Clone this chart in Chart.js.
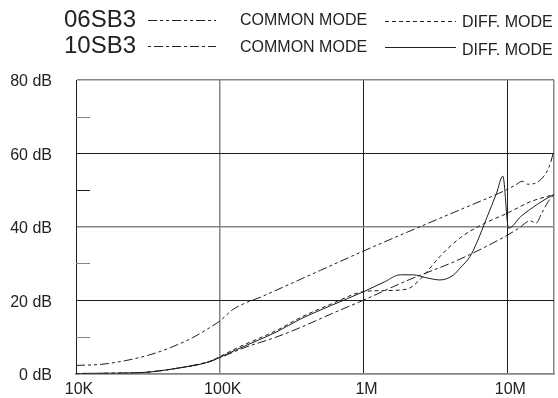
<!DOCTYPE html>
<html>
<head>
<meta charset="utf-8">
<script src="https://cdn.jsdelivr.net/npm/chart.js@4.4.1/dist/chart.umd.min.js"></script>
<style>
  html, body { margin: 0; padding: 0; background: #fff; }
  #wrap { position: relative; width: 558px; height: 398px; font-family: "Liberation Sans", Arial, sans-serif; color: #222; }
  #chart { position: absolute; left: 0; top: 0; }
  .lbl { position: absolute; line-height: 1; white-space: nowrap; }
  svg.key { position: absolute; left: 0; top: 0; }
</style>
</head>
<body>
<div id="wrap">
  <canvas id="chart" width="558" height="398"></canvas>
  <svg class="key" width="558" height="60">
    <g stroke="#222" stroke-width="1" fill="none">
      <line x1="148" y1="20.5" x2="216" y2="20.5" stroke-dasharray="9 3 3 3 3 3"></line>
      <line x1="148" y1="46.5" x2="216" y2="46.5" stroke-dasharray="3 3 9 3"></line>
      <line x1="385" y1="21.5" x2="456" y2="21.5" stroke-dasharray="4 3"></line>
      <line x1="385" y1="47.5" x2="456" y2="47.5"></line>
    </g>
  </svg>
  <div class="lbl" style="left:64px;top:7px;font-size:24px">06SB3</div>
  <div class="lbl" style="left:64px;top:33px;font-size:24px">10SB3</div>
  <div class="lbl" style="left:240px;top:12px;font-size:16px">COMMON MODE</div>
  <div class="lbl" style="left:240px;top:39px;font-size:16px">COMMON MODE</div>
  <div class="lbl" style="left:462px;top:14px;font-size:16px">DIFF. MODE</div>
  <div class="lbl" style="left:462px;top:42px;font-size:16px">DIFF. MODE</div>
</div>
<script>
// frequency axis (Hz)
const xTicks = [1e4, 1e5, 1e6, 1e7, 2.11e7];
const xTickLabels = ['10K', '100K', '1M', '10M', ''];
const yTicks = [0, 10, 20, 30, 40, 50, 60, 70, 80];
const minorDb = [10, 30, 50, 70];

// 06SB3 common mode
const freqCm06 = [1e4, 1.5e4, 2.2e4, 3.2e4, 4.5e4, 6.5e4, 8.5e4, 1e5, 1.24e5, 2e5, 5e5, 1e6, 2.5e6, 5e6, 1e7, 1.15e7, 1.27e7, 1.38e7, 1.55e7, 1.72e7, 1.88e7, 2e7, 2.11e7];
const cm06 = [2.2, 2.5, 3.5, 5.0, 7.0, 9.8, 12.5, 14.3, 17.5, 21.1, 28.1, 33.4, 40.1, 45.1, 50.2, 51.5, 52.4, 51.6, 51.8, 53.0, 55.0, 57.5, 61.0];

// 06SB3 differential mode
const freqDm06 = [1e4, 2e4, 3e4, 5e4, 8.5e4, 1e5, 1.31e5, 2.5e5, 3.62e5, 6e5, 1e6, 1.4e6, 2e6, 2.45e6, 3.4e6, 4.7e6, 7e6, 1e7, 1.44e7, 2.11e7];
const dm06 = [0, 0.1, 0.3, 1.4, 3.3, 4.6, 6.9, 11.8, 15.2, 19.0, 22.3, 22.6, 23.0, 25.5, 31.9, 37.0, 41.0, 43.7, 46.8, 48.8];

// 10SB3 common mode
const freqCm10 = [1e4, 2e4, 3e4, 5e4, 8.5e4, 1e5, 1.45e5, 2.5e5, 3.62e5, 6e5, 1e6, 2e6, 4.7e6, 1e7, 1.2e7, 1.44e7, 1.58e7, 1.75e7, 1.92e7, 2.11e7];
const cm10 = [0, 0.1, 0.3, 1.4, 3.3, 4.3, 6.9, 10.0, 12.5, 16.3, 20.0, 25.3, 31.2, 37.7, 39.6, 41.6, 41.0, 44.0, 46.8, 48.8];

// 10SB3 differential mode
const freqDm10 = [1e4, 2e4, 3e4, 5e4, 8.5e4, 1e5, 1.38e5, 2.5e5, 3.62e5, 6e5, 1e6, 1.4e6, 1.8e6, 2.2e6, 2.8e6, 3.4e6, 4.2e6, 4.7e6, 5.5e6, 6.1e6, 7.2e6, 8.4e6, 9.3e6, 1.02e7, 1.24e7, 1.6e7, 1.8e7, 2.11e7];
const dm10 = [0, 0.1, 0.3, 1.4, 3.2, 4.4, 6.9, 11.4, 14.8, 18.6, 22.3, 25.0, 26.9, 26.9, 26.0, 25.5, 26.8, 28.8, 31.9, 35.5, 42.5, 49.1, 53.8, 39.6, 42.8, 46.0, 47.3, 48.8];

const DARK = '#1e1e1e';
const GRAY = '#858585';

function series(label, freqs, vals, dash) {
  return {
    label: label,
    data: freqs.map((f, i) => ({ x: f, y: vals[i] })),
    borderColor: DARK,
    borderWidth: 1,
    borderDash: dash,
    pointRadius: 0,
    fill: false,
    cubicInterpolationMode: 'monotone',
  };
}

// short ticks inside the plot at the odd tens
const minorTicks = {
  id: 'minorTicks',
  beforeDatasetsDraw(chart) {
    const { ctx, chartArea, scales } = chart;
    ctx.save();
    ctx.lineWidth = 1;
    minorDb.forEach(v => {
      const py = Math.round(scales.y.getPixelForValue(v)) + 0.5;
      ctx.strokeStyle = v === 50 ? DARK : GRAY;
      ctx.beginPath();
      ctx.moveTo(chartArea.left, py);
      ctx.lineTo(chartArea.left + 14, py);
      ctx.stroke();
    });
    ctx.restore();
  }
};

Chart.defaults.font.family = "'Liberation Sans', Arial, sans-serif";
Chart.defaults.font.size = 16;
Chart.defaults.color = '#222';

new Chart(document.getElementById('chart'), {
  type: 'line',
  data: {
    datasets: [
      series('06SB3 COMMON MODE', freqCm06, cm06, [9, 3, 3, 3, 3, 3]),
      series('06SB3 DIFF. MODE', freqDm06, dm06, [4, 3]),
      series('10SB3 COMMON MODE', freqCm10, cm10, [3, 3, 9, 3]),
      series('10SB3 DIFF. MODE', freqDm10, dm10, []),
    ],
  },
  options: {
    responsive: false,
    animation: false,
    layout: { padding: { top: 80, right: 4, left: 0, bottom: 0 } },
    plugins: { legend: { display: false }, tooltip: { enabled: false } },
    scales: {
      x: {
        type: 'logarithmic',
        min: 1e4,
        max: 2.11e7,
        afterBuildTicks: s => { s.ticks = xTicks.map(v => ({ value: v })); },
        afterFit: s => { s.height = 24.5; s.paddingLeft = 0; s.paddingRight = 0; },
        ticks: {
          autoSkip: false,
          maxRotation: 0,
          padding: 6,
          labelOffset: 3,
          callback: v => xTickLabels[xTicks.indexOf(v)],
        },
        grid: {
          drawTicks: false,
          color: c => (c.tick && (c.tick.value === 1e5 || c.tick.value === 2.11e7)) ? GRAY : DARK,
          lineWidth: c => (c.tick && (c.tick.value === 1e5 || c.tick.value === 2.11e7)) ? 1.5 : 1,
        },
        border: { color: GRAY, width: 1.5 },
      },
      y: {
        min: 0,
        max: 80,
        afterBuildTicks: s => { s.ticks = yTicks.map(v => ({ value: v })); },
        afterFit: s => { s.width = 76; s.paddingTop = 0; s.paddingBottom = 0; },
        ticks: {
          padding: 24,
          labelOffset: 2,
          callback: v => (v % 20 === 0 ? v + ' dB' : ''),
        },
        grid: {
          drawTicks: false,
          color: c => {
            const v = c.tick.value;
            if (v % 20 !== 0) return 'rgba(0,0,0,0)';
            return (v === 20 || v === 60) ? DARK : GRAY;
          },
          lineWidth: c => (c.tick.value === 20 || c.tick.value === 60) ? 1 : 1.5,
        },
        border: { color: DARK, width: 1 },
      },
    },
  },
  plugins: [minorTicks],
});
</script>
</body>
</html>
